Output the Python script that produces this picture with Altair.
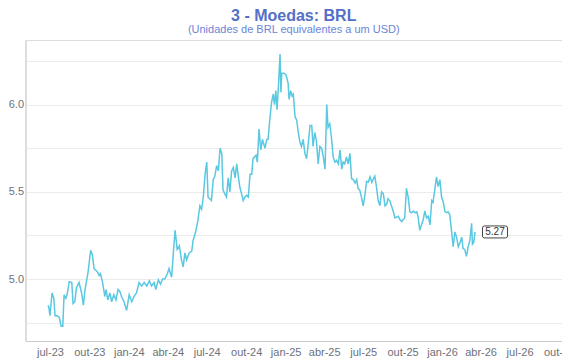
import altair as alt
import pandas as pd

# Day offsets from 2023-07-01 and BRL per USD values
day_offsets = [-4, -2, 0, 5, 9, 12, 17, 22, 26, 30,
               33, 37, 40, 45, 51, 54, 58, 62, 68, 74,
               78, 82, 89, 95, 99, 103, 107, 111, 115, 118,
               123, 128, 131, 135, 140, 144, 149, 154, 159, 163,
               167, 173, 179, 185, 191, 196, 202, 208, 214, 220,
               226, 232, 237, 243, 247, 253, 258, 263, 268, 274,
               278, 284, 288, 292, 297, 302, 307, 311, 315, 319,
               325, 331, 334, 340, 345, 350, 354, 358, 362, 366,
               369, 373, 377, 381, 385, 389, 393, 397, 401, 404,
               408, 412, 416, 420, 424, 428, 432, 436, 439, 443,
               447, 451, 455, 459, 463, 467, 471, 474, 481, 484,
               488, 492, 496, 502, 506, 509, 513, 517, 521, 524,
               527, 530, 534, 537, 539, 541, 546, 551, 554, 556,
               558, 562, 565, 568, 572, 576, 579, 583, 587, 591,
               595, 599, 603, 607, 611, 614, 618, 622, 626, 630,
               634, 638, 642, 646, 649, 653, 657, 661, 665, 669,
               673, 677, 681, 684, 688, 692, 696, 700, 704, 708,
               712, 716, 719, 723, 727, 731, 735, 739, 743, 747,
               751, 754, 758, 762, 766, 770, 774, 778, 782, 786,
               789, 793, 797, 801, 805, 813, 817, 821, 824, 828,
               832, 836, 840, 844, 848, 852, 856, 859, 863, 867,
               871, 875, 879, 883, 887, 891, 894, 898, 902, 906,
               910, 914, 918, 922, 926, 929, 933, 937, 941, 945,
               949, 953, 957, 961, 964, 968, 972, 976, 980, 984,
               986, 989, 992]

brl = [4.85, 4.83, 4.79, 4.92, 4.89, 4.79, 4.79, 4.78, 4.73, 4.73,
       4.91, 4.89, 4.91, 4.985, 4.98, 4.86, 4.87, 4.95, 4.98, 4.92,
       4.85, 4.94, 5.04, 5.165, 5.14, 5.06, 5.05, 5.04, 5.02, 5.03,
       4.98, 4.90, 4.94, 4.88, 4.92, 4.87, 4.91, 4.88, 4.94, 4.93,
       4.90, 4.87, 4.82, 4.91, 4.87, 4.90, 4.92, 4.98, 4.96, 4.98,
       4.96, 4.99, 4.96, 4.98, 4.94, 4.995, 4.97, 5.0, 5.0, 5.03,
       5.06, 5.01, 5.15, 5.28, 5.17, 5.19, 5.11, 5.07, 5.15, 5.11,
       5.15, 5.16, 5.22, 5.27, 5.33, 5.42, 5.40, 5.47, 5.60, 5.67,
       5.47, 5.46, 5.45, 5.57, 5.59, 5.65, 5.62, 5.75, 5.72, 5.51,
       5.49, 5.47, 5.58, 5.50, 5.62, 5.64, 5.58, 5.66, 5.60, 5.53,
       5.49, 5.45, 5.47, 5.48, 5.47, 5.60, 5.60, 5.69, 5.71, 5.67,
       5.86, 5.74, 5.80, 5.75, 5.80, 5.80, 5.91, 6.01, 6.06, 6.0,
       6.08, 5.97, 6.14, 6.29, 6.07, 6.18, 6.18, 6.17, 6.14, 6.12,
       6.03, 6.08, 6.05, 6.06, 5.93, 5.91, 5.85, 5.79, 5.76, 5.80,
       5.72, 5.69, 5.78, 5.88, 5.88, 5.76, 5.84, 5.79, 5.66, 5.76,
       5.75, 5.70, 5.63, 6.0, 5.87, 5.89, 5.81, 5.70, 5.67, 5.68,
       5.66, 5.74, 5.63, 5.67, 5.66, 5.70, 5.66, 5.72, 5.575, 5.57,
       5.55, 5.57, 5.52, 5.51, 5.47, 5.42, 5.48, 5.56, 5.555, 5.585,
       5.555, 5.57, 5.59, 5.53, 5.45, 5.42, 5.50, 5.49, 5.42, 5.43,
       5.46, 5.45, 5.42, 5.39, 5.35, 5.36, 5.34, 5.33, 5.34, 5.35,
       5.52, 5.47, 5.385, 5.38, 5.39, 5.38, 5.385, 5.36, 5.28, 5.31,
       5.34, 5.39, 5.35, 5.36, 5.31, 5.45, 5.44, 5.51, 5.585, 5.53,
       5.57, 5.47, 5.44, 5.385, 5.38, 5.385, 5.37, 5.28, 5.185, 5.27,
       5.24, 5.185, 5.21, 5.24, 5.175, 5.17, 5.13, 5.185, 5.22, 5.32,
       5.20, 5.21, 5.27]

y_ticks = [4.75, 5.0, 5.25, 5.5, 5.75, 6.0, 6.25]
x_ticks = [(2023, 7), (2023, 10), (2024, 1), (2024, 4), (2024, 7), (2024, 10),
           (2025, 1), (2025, 4), (2025, 7), (2025, 10), (2026, 1), (2026, 4),
           (2026, 7), (2026, 10)]
month_names = ["jan", "fev", "mar", "abr", "mai", "jun", "jul", "ago", "set", "out", "nov", "dez"]

assert len(day_offsets) == len(brl)

base = pd.Timestamp("2023-07-01")
df = pd.DataFrame({
    "date": base + pd.to_timedelta(day_offsets, unit="D"),
    "v": brl,
})
last = df.tail(1)

FONT = "Liberation Sans"
LINE = "#5ac8e0"
LABEL = "#6e7079"

x_scale = alt.Scale(domain=[alt.DateTime(year=2023, month=5, date=5),
                            alt.DateTime(year=2026, month=10, date=8)])
y_scale = alt.Scale(domain=[4.645, 6.37], nice=False, zero=False)

month_arr = "[" + ",".join(f"'{m}'" for m in month_names) + "]"

x_enc = alt.X("date:T", scale=x_scale, title=None,
              axis=alt.Axis(values=[alt.DateTime(year=y, month=m, date=1) for y, m in x_ticks],
                            labelExpr=month_arr + "[month(datum.value)] + '-' + timeFormat(datum.value, '%y')",
                            grid=False, ticks=False, tickSize=0, domain=True,
                            domainColor="#cccccc", labelColor=LABEL, labelFontSize=11,
                            labelFont=FONT, labelPadding=5, labelOverlap=False,
                            labelFlush=False, labelBound=False))
y_enc = alt.Y("v:Q", scale=y_scale, title=None,
              axis=alt.Axis(values=y_ticks,
                            labelExpr="datum.value % 0.5 == 0 ? format(datum.value, '.1f') : ''",
                            grid=True, gridColor="#ebebeb", ticks=False, tickSize=0,
                            domain=True, domainColor="#cccccc", labelColor=LABEL,
                            labelFontSize=11, labelFont=FONT, labelPadding=2))

line = alt.Chart(df).mark_line(color=LINE, strokeWidth=1.5).encode(x=x_enc, y=y_enc)

box_path = ("M -0.84 -0.48 L 0.84 -0.48 Q 1 -0.48 1 -0.32 L 1 0.32 Q 1 0.48 0.84 0.48 "
            "L -0.84 0.48 Q -1 0.48 -1 0.32 L -1 -0.32 Q -1 -0.48 -0.84 -0.48 Z")
box = alt.Chart(last).mark_point(shape=box_path, size=625, fill="white", filled=True,
                                 stroke="#444444", strokeWidth=1, opacity=1,
                                 xOffset=20).encode(x="date:T", y="v:Q")
txt = alt.Chart(last).mark_text(dx=20, fontSize=10, font=FONT, color="#333333",
                                align="center", baseline="middle").encode(
    x="date:T", y="v:Q", text=alt.Text("v:Q", format=".2f"))

chart = alt.layer(line, box, txt).properties(
    width=536.5, height=301,
    autosize=alt.AutoSizeParams(type="none"),
    padding={"left": 17.5, "top": 32, "right": 0, "bottom": 19},
    title=alt.TitleParams(text="3 - Moedas: BRL",
                          subtitle="(Unidades de BRL equivalentes a um USD)",
                          fontSize=16, fontWeight="bold", color="#5470c6", font=FONT,
                          subtitleFontSize=11, subtitleColor="#6b84d8", subtitleFont=FONT,
                          subtitlePadding=0, offset=5, anchor="middle"),
).configure_view(stroke=None).configure(background="white")

chart.save("out.html", embed_options={"renderer": "svg", "actions": False})
